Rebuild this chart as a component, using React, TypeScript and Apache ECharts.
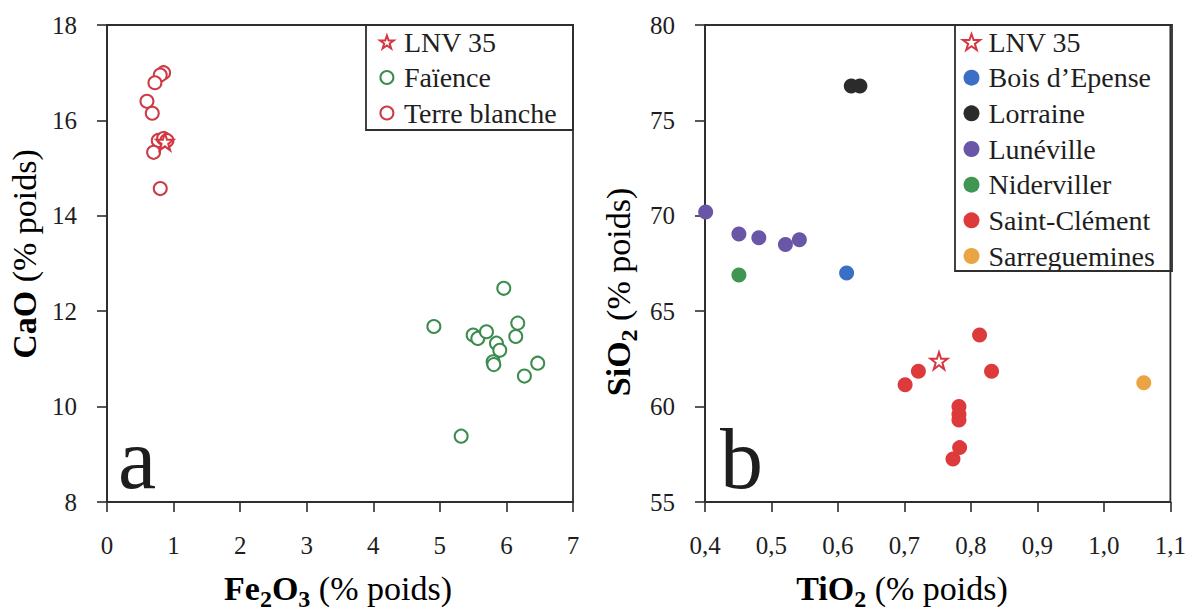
import React, { useEffect, useRef } from "react";
import * as echarts from "echarts";

// ---------- Data (panel a: Fe2O3 vs CaO) ----------
const lnvA: number[][] = [[0.87, 15.55]];
const faience: number[][] = [
  [5.96, 12.48], [4.91, 11.68], [5.5, 11.5], [5.57, 11.43], [5.7, 11.57],
  [6.17, 11.75], [6.14, 11.47], [5.85, 11.33], [5.9, 11.18], [5.8, 10.94],
  [5.81, 10.88], [6.47, 10.91], [6.27, 10.64], [5.32, 9.38],
];
const terreBlanche: number[][] = [
  [0.85, 17.0], [0.8, 16.95], [0.72, 16.79], [0.6, 16.4], [0.68, 16.15],
  [0.77, 15.58], [0.85, 15.62], [0.9, 15.58], [0.7, 15.33], [0.8, 14.57],
];

// ---------- Data (panel b: TiO2 vs SiO2) ----------
const lnvB: number[][] = [[0.752, 62.4]];
const boisEpense: number[][] = [[0.613, 67.0]];
const lorraine: number[][] = [[0.62, 76.8], [0.633, 76.8]];
const luneville: number[][] = [[0.401, 70.2], [0.451, 69.05], [0.481, 68.85], [0.521, 68.5], [0.542, 68.75]];
const niderviller: number[][] = [[0.451, 66.9]];
const saintClement: number[][] = [
  [0.813, 63.75], [0.831, 61.85], [0.721, 61.85], [0.701, 61.15], [0.782, 60.0],
  [0.782, 59.6], [0.782, 59.3], [0.783, 57.85], [0.773, 57.25],
];
const sarreguemines: number[][] = [[1.06, 61.25]];

const legendA = ["LNV 35", "Faïence", "Terre blanche"];
const legendB = ["LNV 35", "Bois d’Epense", "Lorraine", "Lunéville", "Niderviller", "Saint-Clément", "Sarreguemines"];

const FONT = "Liberation Serif";
const STAR = "path://M50,2 L61.8,36.2 L97.6,36.2 L68.6,57.4 L79.4,91.6 L50,70.4 L20.6,91.6 L31.4,57.4 L2.4,36.2 L38.2,36.2 Z";
const AX = "#2e2e2e";
const TXT = "#1e1e1e";

function axisCommon() {
  return {
    type: "value" as const,
    axisLine: { show: true, onZero: false, lineStyle: { color: AX, width: 1.8 } },
    axisTick: { show: true, inside: false, length: 10, lineStyle: { color: AX, width: 1.6 } },
    splitLine: { show: false },
    axisLabel: { fontSize: 25, color: TXT, fontFamily: FONT },
  };
}

export default function App() {
  const ref = useRef<HTMLDivElement>(null);
  useEffect(() => {
    document.body.style.margin = "0";
    if (!ref.current) return;
    const chart = echarts.init(ref.current, undefined, { renderer: "svg" });
    const comma = (v: number) => v.toFixed(1).replace(".", ",");
    const titleRich = {
      b: { fontSize: 34, fontWeight: "bold", fontFamily: FONT, color: TXT },
      s: { fontSize: 24, fontWeight: "bold", fontFamily: FONT, color: TXT, padding: [22, 0, 0, 0] },
      n: { fontSize: 34, fontFamily: FONT, color: TXT },
    };
    const option: any = {
      animation: false,
      backgroundColor: "#fff",
      textStyle: { fontFamily: FONT },
      grid: [
        { left: 107, top: 25, width: 466, height: 477, show: true, borderColor: AX, borderWidth: 1.8, backgroundColor: "transparent" },
        { left: 705, top: 25, width: 467, height: 477, show: true, borderColor: AX, borderWidth: 1.8, backgroundColor: "transparent" },
      ],
      xAxis: [
        { ...axisCommon(), gridIndex: 0, min: 0, max: 7, interval: 1, axisLabel: { ...axisCommon().axisLabel, margin: 31 } },
        { ...axisCommon(), gridIndex: 1, min: 0.4, max: 1.1, interval: 0.1, axisLabel: { ...axisCommon().axisLabel, margin: 31, formatter: comma } },
      ],
      yAxis: [
        { ...axisCommon(), gridIndex: 0, min: 8, max: 18, interval: 2, axisLabel: { ...axisCommon().axisLabel, margin: 30 } },
        { ...axisCommon(), gridIndex: 1, min: 55, max: 80, interval: 5, axisLabel: { ...axisCommon().axisLabel, margin: 30 } },
      ],
      legend: [
        {
          data: legendA, left: 379, top: 28, orient: "vertical", padding: 0,
          itemWidth: 24, itemHeight: 13, itemGap: 7.5, selectedMode: false,
          textStyle: { fontSize: 28, lineHeight: 28, fontFamily: FONT, color: TXT },
        },
        {
          data: legendB, left: 962, top: 28, orient: "vertical", padding: 0,
          itemWidth: 24, itemHeight: 16, itemGap: 7.67, selectedMode: false,
          textStyle: { fontSize: 28, lineHeight: 28, fontFamily: FONT, color: TXT },
        },
      ],
      series: [
        { type: "scatter", name: "Faïence", xAxisIndex: 0, yAxisIndex: 0, data: faience, symbol: "circle", symbolSize: 13,
          itemStyle: { color: "#fff", borderColor: "#3b8c4e", borderWidth: 2, opacity: 1 } },
        { type: "scatter", name: "Terre blanche", xAxisIndex: 0, yAxisIndex: 0, data: terreBlanche, symbol: "circle", symbolSize: 13,
          itemStyle: { color: "#fff", borderColor: "#cc3b47", borderWidth: 2, opacity: 1 } },
        { type: "scatter", name: "LNV 35", xAxisIndex: 0, yAxisIndex: 0, data: lnvA, symbol: STAR, symbolSize: 17,
          itemStyle: { color: "#fff", borderColor: "#d6363f", borderWidth: 2, opacity: 1 } },
        { type: "scatter", name: "Bois d’Epense", xAxisIndex: 1, yAxisIndex: 1, data: boisEpense, symbol: "circle", symbolSize: 15,
          itemStyle: { color: "#3b6fc6", opacity: 1 } },
        { type: "scatter", name: "Lorraine", xAxisIndex: 1, yAxisIndex: 1, data: lorraine, symbol: "circle", symbolSize: 15,
          itemStyle: { color: "#2b2b2b", opacity: 1 } },
        { type: "scatter", name: "Lunéville", xAxisIndex: 1, yAxisIndex: 1, data: luneville, symbol: "circle", symbolSize: 15,
          itemStyle: { color: "#6a56a6", opacity: 1 } },
        { type: "scatter", name: "Niderviller", xAxisIndex: 1, yAxisIndex: 1, data: niderviller, symbol: "circle", symbolSize: 15,
          itemStyle: { color: "#3f9552", opacity: 1 } },
        { type: "scatter", name: "Saint-Clément", xAxisIndex: 1, yAxisIndex: 1, data: saintClement, symbol: "circle", symbolSize: 15,
          itemStyle: { color: "#dd3a3c", opacity: 1 } },
        { type: "scatter", name: "Sarreguemines", xAxisIndex: 1, yAxisIndex: 1, data: sarreguemines, symbol: "circle", symbolSize: 15,
          itemStyle: { color: "#eaa444", opacity: 1 } },
        { type: "scatter", name: "LNV 35", xAxisIndex: 1, yAxisIndex: 1, data: lnvB, symbol: STAR, symbolSize: 17,
          itemStyle: { color: "#fff", borderColor: "#d6363f", borderWidth: 2, opacity: 1 } },
      ],
      graphic: [
        { type: "rect", shape: { x: 366, y: 25, width: 207, height: 105 }, style: { fill: "none", stroke: AX, lineWidth: 1.8 }, z: 10 },
        { type: "rect", shape: { x: 955, y: 25, width: 217, height: 246 }, style: { fill: "none", stroke: AX, lineWidth: 1.8 }, z: 10 },
        { type: "text", x: 118, y: 459, style: { text: "a", fontSize: 86, fontFamily: FONT, fill: TXT, align: "left", verticalAlign: "middle" } },
        { type: "text", x: 720, y: 459, style: { text: "b", fontSize: 86, fontFamily: FONT, fill: TXT, align: "left", verticalAlign: "middle" } },
        { type: "text", x: 338, y: 588, style: { text: "{b|Fe}{s|2}{b|O}{s|3}{n| (% poids)}", rich: titleRich, align: "center", verticalAlign: "middle" } },
        { type: "text", x: 902, y: 588, style: { text: "{b|TiO}{s|2}{n| (% poids)}", rich: titleRich, align: "center", verticalAlign: "middle" } },
        { type: "text", x: 24, y: 254, rotation: Math.PI / 2, style: { text: "{b|CaO}{n| (% poids)}", rich: titleRich, align: "center", verticalAlign: "middle" } },
        { type: "text", x: 618, y: 292, rotation: Math.PI / 2, style: { text: "{b|SiO}{s|2}{n| (% poids)}", rich: titleRich, align: "center", verticalAlign: "middle" } },
      ],
    };
    chart.setOption(option);
    return () => chart.dispose();
  }, []);
  return <div ref={ref} style={{ width: 1189, height: 615 }} />;
}
